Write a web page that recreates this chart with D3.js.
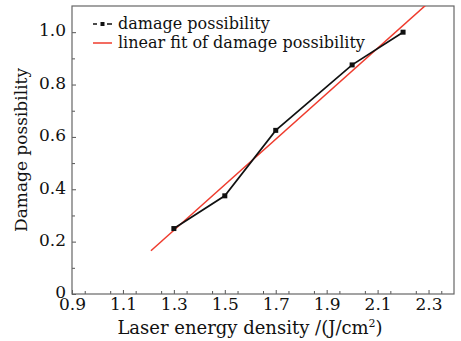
<!DOCTYPE html>
<html>
<head>
<meta charset="utf-8">
<script src="https://cdn.jsdelivr.net/npm/d3@7"></script>
<style>
  body { margin: 0; background: #fff; }
  text { font-family: "DejaVu Serif", serif; fill: #111; }
</style>
</head>
<body>
<svg width="461" height="341"></svg>
<script>
// data
const energy = [1.3, 1.5, 1.7, 2.0, 2.2];
const possibility = [0.25, 0.375, 0.625, 0.875, 1.0];
// linear fit, end points as drawn
const fitX = [1.21, 2.29];
const fitY = [0.165, 1.104];
const xTicks = [0.9, 1.1, 1.3, 1.5, 1.7, 1.9, 2.1, 2.3];
const yTicks = [0, 0.2, 0.4, 0.6, 0.8, 1.0];
const legendLabels = ['damage possibility', 'linear fit of damage possibility'];

const svg = d3.select('svg');
const width = +svg.attr('width');
const height = +svg.attr('height');
const margin = {top: 6, right: 7, bottom: 47, left: 72};
const innerWidth = width - margin.left - margin.right;
const innerHeight = height - margin.top - margin.bottom;

const xScale = d3.scaleLinear().domain([0.9, 2.4]).range([0, innerWidth]);
const yScale = d3.scaleLinear().domain([0, 1.1]).range([innerHeight, 0]);

const g = svg.append('g')
  .attr('transform', `translate(${margin.left},${margin.top})`);

g.append('clipPath').attr('id', 'clip')
  .append('rect').attr('width', innerWidth).attr('height', innerHeight);

// minor ticks
const xMinor = d3.range(0.95, 2.4, 0.1).map(v => +v.toFixed(2));
const yMinor = [0.1, 0.3, 0.5, 0.7, 0.9];

const fmtX = d => d.toFixed(1);
const fmtY = d => d === 0 ? '0' : d.toFixed(1);

g.append('g')
  .attr('transform', `translate(0,${innerHeight})`)
  .call(d3.axisBottom(xScale).tickValues(xTicks).tickFormat(fmtX).tickSizeInner(-4).tickSizeOuter(0).tickPadding(4))
  .attr('font-family', '"DejaVu Serif", serif')
  .attr('font-size', 17);
const xm = g.append('g')
  .attr('transform', `translate(0,${innerHeight})`)
  .call(d3.axisBottom(xScale).tickValues(xMinor).tickSizeInner(-3).tickSizeOuter(0));
xm.selectAll('text, .domain').remove();

g.append('g')
  .call(d3.axisLeft(yScale).tickValues(yTicks).tickFormat(fmtY).tickSizeInner(-4).tickSizeOuter(0).tickPadding(6))
  .attr('font-family', '"DejaVu Serif", serif')
  .attr('font-size', 17)
  .selectAll('.tick text')
    .attr('dy', '0.22em');
const ym = g.append('g')
  .call(d3.axisLeft(yScale).tickValues(yMinor).tickSizeInner(-3).tickSizeOuter(0));
ym.selectAll('text, .domain').remove();

svg.selectAll('.tick text').attr('fill', '#111');
svg.selectAll('.tick line').attr('stroke', '#555');

// frame
g.append('rect')
  .attr('width', innerWidth)
  .attr('height', innerHeight)
  .attr('fill', 'none')
  .attr('stroke', '#666')
  .attr('stroke-width', 1.2);
svg.selectAll('.domain').remove();

// fit line
const fitData = fitX.map((x, i) => [x, fitY[i]]);
g.append('path')
  .datum(fitData)
  .attr('clip-path', 'url(#clip)')
  .attr('fill', 'none')
  .attr('stroke', '#ef3b2d')
  .attr('stroke-width', 1.5)
  .attr('d', d3.line().x(d => xScale(d[0])).y(d => yScale(d[1])));

// data line
const pts = energy.map((x, i) => [x, possibility[i]]);
g.append('path')
  .datum(pts)
  .attr('fill', 'none')
  .attr('stroke', '#111')
  .attr('stroke-width', 1.7)
  .attr('d', d3.line().x(d => xScale(d[0])).y(d => yScale(d[1])));

g.selectAll('rect.pt').data(pts)
  .enter().append('rect')
    .attr('class', 'pt')
    .attr('x', d => xScale(d[0]) - 2.5)
    .attr('y', d => yScale(d[1]) - 2.5)
    .attr('width', 5)
    .attr('height', 5)
    .attr('fill', '#111');

// legend
const legend = g.append('g').attr('transform', 'translate(21,18)');
legend.append('line')
  .attr('x1', 0).attr('x2', 19).attr('y1', 0).attr('y2', 0)
  .attr('stroke', '#111').attr('stroke-width', 1.7)
  .attr('stroke-dasharray', '4,10,5');
legend.append('rect')
  .attr('x', 7.5).attr('y', -2).attr('width', 4).attr('height', 4)
  .attr('fill', '#111');
legend.append('line')
  .attr('x1', 0).attr('x2', 19).attr('y1', 19).attr('y2', 19)
  .attr('stroke', '#ef3b2d').attr('stroke-width', 1.5);
legend.selectAll('text.leg').data(legendLabels)
  .enter().append('text')
    .attr('class', 'leg')
    .attr('x', 25)
    .attr('y', (d, i) => i * 19)
    .attr('dy', '0.32em')
    .style('font-size', '16px')
    .text(d => d);

// axis titles
svg.append('text')
  .attr('x', 250)
  .attr('y', 334)
  .attr('text-anchor', 'middle')
  .style('font-size', '18px')
  .html('Laser energy density /(J/cm<tspan dy="-7" font-size="11px">2</tspan><tspan dy="7">)</tspan>');

svg.append('text')
  .attr('transform', `translate(27,${margin.top + yScale(0.55)}) rotate(-90)`)
  .attr('text-anchor', 'middle')
  .style('font-size', '17px')
  .text('Damage possibility');
</script>
</body>
</html>
